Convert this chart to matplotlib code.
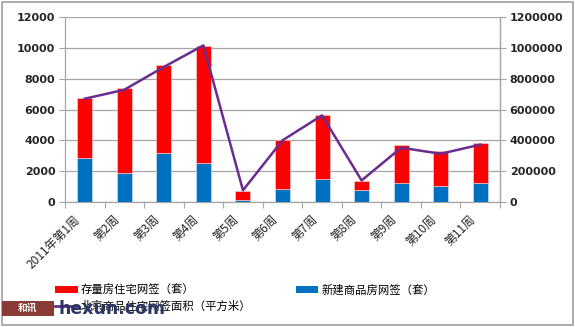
import matplotlib
matplotlib.use("Agg")
import matplotlib.pyplot as plt
from matplotlib.patches import Rectangle, Patch
from matplotlib.lines import Line2D
import numpy as np

plt.rcParams['font.family'] = ['Noto Sans CJK SC', 'DejaVu Sans']

categories = ["2011年第1周", "第2周", "第3周", "第4周", "第5周", "第6周",
              "第7周", "第8周", "第9周", "第10周", "第11周"]
new_units = [2850, 1880, 3180, 2530, 160, 870, 1510, 800, 1250, 1020, 1250]
existing_units = [3900, 5520, 5730, 7590, 530, 3130, 4110, 585, 2470, 2310, 2580]
area_sqm = [670000, 728000, 876000, 1016000, 76000, 400000, 562000, 140000, 352000, 313000, 372000]

left_ticks = [0, 2000, 4000, 6000, 8000, 10000, 12000]
right_ticks = [0, 200000, 400000, 600000, 800000, 1000000, 1200000]

RED = "#FF0000"
BLUE = "#0070C0"
PURPLE = "#6A2C8E"
GRID = "#A6A6A6"

fig = plt.figure(figsize=(5.75, 3.27), dpi=100)
fig.patch.set_facecolor("white")
fig.patches.append(Rectangle((0.004, 0.006), 0.992, 0.988, transform=fig.transFigure,
                             fill=False, edgecolor="#A0A0A0", linewidth=1.2))

ax = fig.add_axes([65/575, (327-202)/327, (500-65)/575, (202-17)/327])
x = np.arange(len(categories))
bw = 0.38
ax.bar(x, new_units, bw, color=BLUE, edgecolor="#DDE6F2", linewidth=0.4, zorder=3)
ax.bar(x, existing_units, bw, bottom=new_units, color=RED, edgecolor="#F2DDDD",
       linewidth=0.4, zorder=3)
ax.set_xlim(-0.5, len(categories) - 0.5)
ax.set_ylim(0, 12000)
ax.set_yticks(left_ticks)
ax.set_yticklabels([str(v) for v in left_ticks], fontsize=8, fontweight="bold",
                   family="DejaVu Sans")
ax.yaxis.grid(True, color=GRID, linewidth=0.9, zorder=0)
ax.set_axisbelow(True)
ax.set_xticks(np.arange(-0.5, len(categories) + 0.5, 1), minor=False)
ax.set_xticklabels([])
ax.tick_params(axis="x", length=4, color=GRID, direction="out")
ax.tick_params(axis="y", length=4, color=GRID, direction="out", pad=3, colors="#262626")
for s in ["top"]:
    ax.spines[s].set_visible(False)
for s in ["left", "right", "bottom"]:
    ax.spines[s].set_color(GRID)
    ax.spines[s].set_linewidth(0.9)

for i, lab in enumerate(categories):
    ax.annotate(lab, xy=(i, 0), xycoords=("data", "axes fraction"),
                xytext=(-8, -8), textcoords="offset points",
                rotation=45, ha="right", va="top", rotation_mode="anchor",
                fontsize=8.6, color="#262626")

ax2 = ax.twinx()
ax2.plot(x, area_sqm, color=PURPLE, linewidth=1.8, zorder=4)
ax2.set_ylim(0, 1200000)
ax2.set_yticks(right_ticks)
ax2.set_yticklabels([str(v) for v in right_ticks], fontsize=8, fontweight="bold",
                    family="DejaVu Sans")
ax2.tick_params(axis="y", length=4, color=GRID, direction="out", pad=3, colors="#262626")
for s in ["top", "left", "bottom"]:
    ax2.spines[s].set_visible(False)
ax2.spines["right"].set_color(GRID)
ax2.spines["right"].set_linewidth(0.9)

handles = [Patch(facecolor=RED, edgecolor="none"),
           Line2D([0], [0], color=PURPLE, linewidth=2),
           Patch(facecolor=BLUE, edgecolor="none")]
labels = ["存量房住宅网签（套）", "北京商品住宅网签面积（平方米）", "新建商品房网签（套）"]
fig.legend(handles, labels, loc="upper left", bbox_to_anchor=(55/575, (327-284)/327),
           ncol=2, frameon=False, fontsize=8.2, handlelength=2.0, handleheight=0.6,
           handletextpad=0.25, columnspacing=3.9, labelspacing=0.45, borderpad=0,
           borderaxespad=0)

# watermark
fig.patches.append(Rectangle((2/575, (327-316)/327), 52/575, 15/327, transform=fig.transFigure,
                             facecolor="#8A3B36", edgecolor="none", zorder=5))
fig.text(28/575, (327-308)/327, "和讯", color="white", fontsize=7, fontweight="bold",
         ha="center", va="center", zorder=6)
fig.text(58/575, (327-309)/327, "hexun.com", color="#2B3566", fontsize=12.5,
         fontweight="bold", ha="left", va="center", family="DejaVu Sans", zorder=6)

fig.savefig("out.png", dpi=100, facecolor="white")
